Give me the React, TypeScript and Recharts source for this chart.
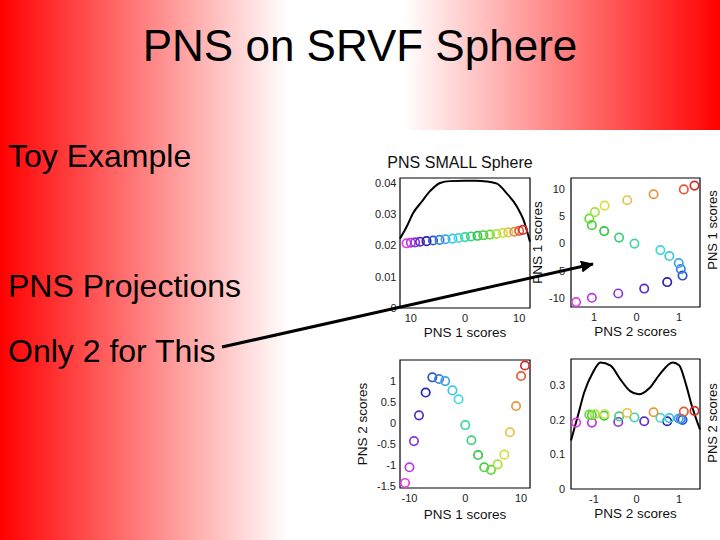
import React from "react";
import {
  ComposedChart,
  Line,
  Scatter,
  XAxis,
  YAxis,
  ReferenceArea,
  Label,
} from "recharts";

const FONT = '"Liberation Sans", Arial, Helvetica, sans-serif';

// one colour per toy curve, magenta -> red
const ringColors = [
  "#e23ee2", "#b63be0", "#8a3ad6", "#5a2fc8", "#2a22b0", "#2a55c8", "#3a7fe0",
  "#3ea6ea", "#3ec6e6", "#3edcd6", "#3ed6a8", "#3ed07a", "#34c648", "#4ad040",
  "#6ad83a", "#a6e03a", "#d6e03e", "#e6c24a", "#e6963e", "#e25a34", "#d0302c",
];

const pns1Scores = [
  -10.8, -10.0, -9.2, -8.3, -7.1, -5.9, -4.7, -3.6, -2.3, -1.2, 0,
  1.1, 2.3, 3.4, 4.6, 5.8, 7.0, 8.0, 9.1, 10.0, 10.7,
];
const pns2Scores = [
  -1.42, -1.05, -0.43, 0.18, 0.72, 1.08, 1.04, 0.99, 0.77, 0.56, -0.05,
  -0.41, -0.76, -1.05, -1.11, -0.98, -0.75, -0.22, 0.4, 1.11, 1.36,
];
// jitter heights used to show the points under the density curves
const pns1Height = [
  0.0207, 0.0209, 0.021, 0.0212, 0.0214, 0.0216, 0.0218, 0.022, 0.0222, 0.0224, 0.0227,
  0.0229, 0.0231, 0.0233, 0.0235, 0.0237, 0.024, 0.0242, 0.0244, 0.0247, 0.025,
];
const pns2Height = [
  0.192, 0.192, 0.194, 0.196, 0.196, 0.2, 0.203, 0.204, 0.205, 0.206, 0.207,
  0.21, 0.212, 0.214, 0.215, 0.216, 0.217, 0.22, 0.222, 0.224, 0.226,
];

// kernel density curves
const dens1X = [-12, -10.8, -9.6, -8, -6.5, -4.6, -2.8, 0, 2, 4, 5.9, 7.7, 9.6, 10.8, 12];
const dens1Y = [0.0222, 0.0259, 0.0303, 0.034, 0.0373, 0.04, 0.0406, 0.0407, 0.0407, 0.0405, 0.0398, 0.0367, 0.0324, 0.0282, 0.0212];
const dens2X = [-1.54, -1.38, -1.23, -1.03, -0.85, -0.61, -0.38, -0.15, 0.05, 0.31, 0.54, 0.85, 1.0, 1.15, 1.3, 1.49];
const dens2Y = [0.14, 0.211, 0.279, 0.336, 0.366, 0.357, 0.317, 0.283, 0.274, 0.293, 0.331, 0.366, 0.358, 0.307, 0.24, 0.172];

const pns1Ticks = [-10, 0, 10];
const pns1TopLabels = ["10", "0", "10"];
const pns1Labels = ["-10", "0", "10"];
const pns1YTicks = [-10, -5, 0, 5, 10];
const pns1YLabels = ["-10", "-5", "0", "5", "10"];
const pns2Ticks = [-1, 0, 1];
const pns2TopLabels = ["1", "0", "1"];
const pns2Labels = ["-1", "0", "1"];
const pns2YTicks = [-1.5, -1, -0.5, 0, 0.5, 1];
const pns2YLabels = ["-1.5", "-1", "-0.5", "0", "0.5", "1"];
const dens1Ticks = [0, 0.01, 0.02, 0.03, 0.04];
const dens1Labels = ["0", "0.01", "0.02", "0.03", "0.04"];
const dens2Ticks = [0, 0.1, 0.2, 0.3];
const dens2Labels = ["0", "0.1", "0.2", "0.3"];

const zip = (xs: number[], ys: number[]) =>
  xs.map((x, i) => ({ x, y: ys[i], color: ringColors[i] }));

const Ring = (props: any) => {
  const { cx, cy, payload } = props;
  if (cx == null || cy == null) return null;
  return (
    <circle cx={cx} cy={cy} r={4.2} fill="none" stroke={payload.color} strokeWidth={1.7} />
  );
};

const tickStyle = { fontSize: 11, fill: "#222", fontFamily: FONT };
const labelStyle = { fontSize: 13.5, fill: "#111", fontFamily: FONT };

function Panel(p: any) {
  const width = 60 + p.plotW + 10;
  const height = 10 + p.plotH + 40;
  const fmt = (ticks: number[], labels: string[]) => (v: number) => {
    const i = ticks.indexOf(v);
    return i >= 0 ? labels[i] : String(v);
  };
  return (
    <div style={{ position: "absolute", left: p.left, top: p.top }}>
      <ComposedChart
        width={width}
        height={height}
        margin={{ top: 10, right: 10, bottom: 0, left: 0 }}
      >
        <XAxis
          type="number"
          dataKey="x"
          domain={p.xDomain}
          ticks={p.xTicks}
          interval={0}
          tickFormatter={fmt(p.xTicks, p.xLabels)}
          axisLine={false}
          tickLine={false}
          tickSize={0}
          tickMargin={6}
          height={40}
          tick={tickStyle}
        >
          <Label value={p.xTitle} position="insideBottom" offset={p.xTitleOffset} style={labelStyle} />
        </XAxis>
        <YAxis
          type="number"
          dataKey="y"
          domain={p.yDomain}
          ticks={p.yTicks}
          interval={0}
          tickFormatter={fmt(p.yTicks, p.yLabels)}
          axisLine={false}
          tickLine={false}
          tickSize={0}
          tickMargin={p.yTickMargin}
          width={60}
          tick={tickStyle}
        >
          {p.yTitle ? (
            <Label
              value={p.yTitle}
              angle={-90}
              position="insideLeft"
              offset={p.yTitleOffset}
              style={{ ...labelStyle, textAnchor: "middle" }}
            />
          ) : null}
        </YAxis>
        <ReferenceArea
          x1={p.xDomain[0]}
          x2={p.xDomain[1]}
          y1={p.yDomain[0]}
          y2={p.yDomain[1]}
          fill="none"
          stroke="#000"
          strokeWidth={1.2}
          ifOverflow="visible"
        />
        {p.curve ? (
          <Line
            data={p.curve}
            dataKey="y"
            type="monotone"
            stroke="#000"
            strokeWidth={2}
            dot={false}
            activeDot={false}
            isAnimationActive={false}
          />
        ) : null}
        <Scatter data={p.points} dataKey="y" shape={Ring} isAnimationActive={false} />
      </ComposedChart>
    </div>
  );
}

export default function App() {
  const pns1Dom = [-12, 12];
  const pns1DomB = [-11.7, 11.6];
  const pns1DomY = [-11.7, 12.1];
  const pns2Dom = [-1.54, 1.49];

  const text = (t: string, top: number) => (
    <div
      style={{
        position: "absolute",
        left: 8,
        top,
        fontSize: 32,
        lineHeight: "32px",
        fontFamily: FONT,
        color: "#000",
        whiteSpace: "nowrap",
      }}
    >
      {t}
    </div>
  );

  return (
    <div
      style={{
        position: "absolute",
        left: 0,
        top: 0,
        width: 720,
        height: 540,
        overflow: "hidden",
        background:
          "linear-gradient(to right, #ff0000 0%, #ffffff 40%, #ffffff 56%, #ff0000 100%)",
        fontFamily: FONT,
      }}
    >
      <div
        style={{
          position: "absolute",
          left: 0,
          top: 23.7,
          width: 720,
          textAlign: "center",
          fontSize: 44,
          lineHeight: "44px",
          color: "#000",
        }}
      >
        PNS on SRVF Sphere
      </div>
      {text("Toy Example", 140.4)}
      {text("PNS Projections", 269.9)}
      {text("Only 2 for This", 334.9)}

      <div
        style={{
          position: "absolute",
          left: 325,
          top: 130,
          width: 395,
          height: 410,
          background: "#fff",
        }}
      />
      <div
        style={{
          position: "absolute",
          left: 360,
          top: 155,
          width: 200,
          textAlign: "center",
          fontSize: 16,
          lineHeight: "16px",
          color: "#111",
        }}
      >
        PNS SMALL Sphere
      </div>

      <Panel
        left={340}
        top={168}
        plotW={130}
        plotH={130}
        xDomain={pns1Dom}
        yDomain={[0, 0.0416]}
        xTicks={pns1Ticks}
        xLabels={pns1TopLabels}
        yTicks={dens1Ticks}
        yLabels={dens1Labels}
        yTickMargin={3.5}
        xTitle="PNS 1 scores"
        xTitleOffset={11}
        points={zip(pns1Scores, pns1Height)}
        curve={dens1X.map((x, i) => ({ x, y: dens1Y[i] }))}
      />
      <Panel
        left={511}
        top={168}
        plotW={129}
        plotH={129}
        xDomain={pns2Dom}
        yDomain={pns1DomY}
        xTicks={pns2Ticks}
        xLabels={pns2TopLabels}
        yTicks={pns1YTicks}
        yLabels={pns1YLabels}
        yTickMargin={6}
        xTitle="PNS 2 scores"
        xTitleOffset={11}
        yTitle="PNS 1 scores"
        yTitleOffset={26}
        points={zip(pns2Scores, pns1Scores)}
      />
      <Panel
        left={340}
        top={350}
        plotW={130}
        plotH={128}
        xDomain={pns1DomB}
        yDomain={pns2Dom}
        xTicks={pns1Ticks}
        xLabels={pns1Labels}
        yTicks={pns2YTicks}
        yLabels={pns2YLabels}
        yTickMargin={4}
        xTitle="PNS 1 scores"
        xTitleOffset={9}
        yTitle="PNS 2 scores"
        yTitleOffset={22}
        points={zip(pns1Scores, pns2Scores)}
      />
      <Panel
        left={511}
        top={349}
        plotW={129}
        plotH={130}
        xDomain={pns2Dom}
        yDomain={[0, 0.376]}
        xTicks={pns2Ticks}
        xLabels={pns2Labels}
        yTicks={dens2Ticks}
        yLabels={dens2Labels}
        yTickMargin={6}
        xTitle="PNS 2 scores"
        xTitleOffset={11}
        points={zip(pns2Scores, pns2Height)}
        curve={dens2X.map((x, i) => ({ x, y: dens2Y[i] }))}
      />

      <svg
        width={720}
        height={540}
        style={{ position: "absolute", left: 0, top: 0, pointerEvents: "none" }}
      >
        <defs>
          <marker
            id="head"
            markerUnits="userSpaceOnUse"
            markerWidth={14}
            markerHeight={12}
            refX={12}
            refY={6}
            orient="auto"
          >
            <path d="M0,0 L13,6 L0,12 z" fill="#000" />
          </marker>
        </defs>
        <line
          x1={222}
          y1={347}
          x2={593}
          y2={264}
          stroke="#000"
          strokeWidth={3}
          markerEnd="url(#head)"
        />
        <text
          transform="translate(712,230) rotate(-90)"
          textAnchor="middle"
          dominantBaseline="central"
          fontSize={13}
          fontFamily={FONT}
          fill="#111"
        >
          PNS 1 scores
        </text>
        <text
          transform="translate(712,423) rotate(-90)"
          textAnchor="middle"
          dominantBaseline="central"
          fontSize={13}
          fontFamily={FONT}
          fill="#111"
        >
          PNS 2 scores
        </text>
      </svg>
    </div>
  );
}
